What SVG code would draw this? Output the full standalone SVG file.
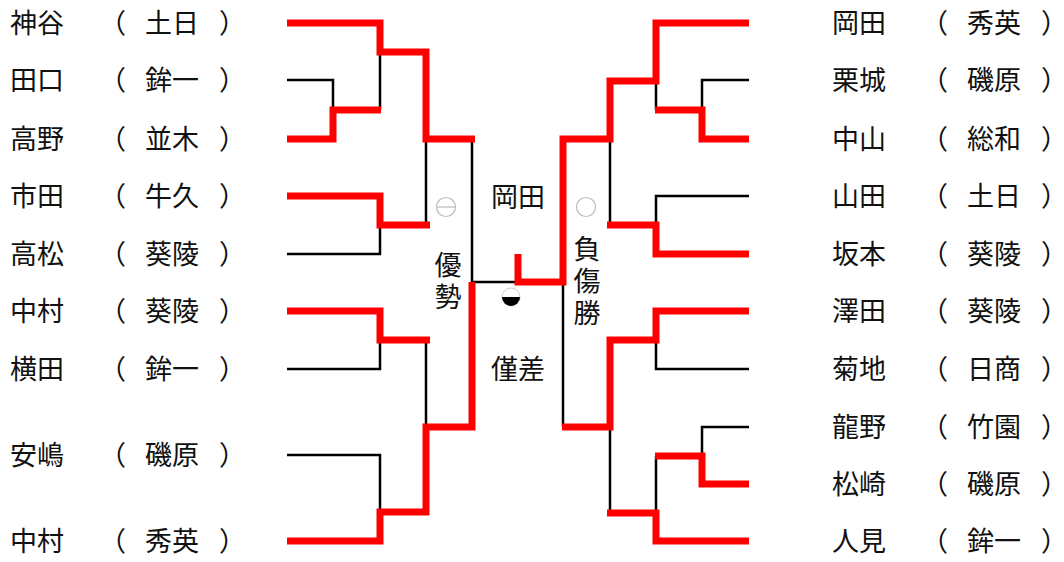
<svg xmlns="http://www.w3.org/2000/svg" width="1064" height="562" viewBox="0 0 1064 562">
<style>
text{font-family:"Noto Sans CJK JP","Noto Sans",sans-serif;font-size:27px;fill:#111}
.c{text-anchor:middle}
.p{font-feature-settings:"halt"}
.v{writing-mode:vertical-rl;text-anchor:middle;letter-spacing:5px}
.b{fill:none;stroke:#000;stroke-width:2.5}
.r{fill:none;stroke:#ff0000;stroke-width:7;stroke-linejoin:miter;stroke-linecap:butt}
.g{fill:#fff;stroke:#bbb;stroke-width:1.2}
</style>
<rect width="1064" height="562" fill="#fff"/>
<g id="connectors">
<g id="black-lines">
<path class="b" d="M287,80H333V110"/>
<path class="b" d="M380,52V110"/>
<path class="b" d="M287,254H380V225"/>
<path class="b" d="M426,139V225"/>
<path class="b" d="M287,369H380V340"/>
<path class="b" d="M426,340V427"/>
<path class="b" d="M287,455H380V512"/>
<path class="b" d="M472,139V282H518"/>
<path class="b" d="M749,80H702V110"/>
<path class="b" d="M656,81V110"/>
<path class="b" d="M749,196H656V225"/>
<path class="b" d="M610,139V225"/>
<path class="b" d="M749,369H656V340"/>
<path class="b" d="M749,427H702V456"/>
<path class="b" d="M656,456V513"/>
<path class="b" d="M610,427V513"/>
<path class="b" d="M563,282V427"/>
</g>
<g id="red-lines">
<path class="r" d="M287,23H380V52H426V139H475"/>
<path class="r" d="M287,139H333V110H381"/>
<path class="r" d="M287,196H380V225H430"/>
<path class="r" d="M287,311H380V340H430"/>
<path class="r" d="M287,541H380V512H426V427H472V282"/>
<path class="r" d="M749,23H656V81H610V139H563V282H518V254"/>
<path class="r" d="M749,139H702V110H655"/>
<path class="r" d="M749,254H656V225H607"/>
<path class="r" d="M749,311H656V340H610V427H562"/>
<path class="r" d="M749,484H702V456H655"/>
<path class="r" d="M749,541H656V513H607"/>
</g>
</g>
<g id="L1"><text x="10" y="33">神谷</text><text x="99" y="33">（</text><text class="c" x="172" y="33">土日</text><text class="p" x="219" y="33">）</text></g>
<g id="L2"><text x="10" y="90">田口</text><text x="99" y="90">（</text><text class="c" x="172" y="90">鉾一</text><text class="p" x="219" y="90">）</text></g>
<g id="L3"><text x="10" y="149">高野</text><text x="99" y="149">（</text><text class="c" x="172" y="149">並木</text><text class="p" x="219" y="149">）</text></g>
<g id="L4"><text x="10" y="206">市田</text><text x="99" y="206">（</text><text class="c" x="172" y="206">牛久</text><text class="p" x="219" y="206">）</text></g>
<g id="L5"><text x="10" y="264">高松</text><text x="99" y="264">（</text><text class="c" x="172" y="264">葵陵</text><text class="p" x="219" y="264">）</text></g>
<g id="L6"><text x="10" y="321">中村</text><text x="99" y="321">（</text><text class="c" x="172" y="321">葵陵</text><text class="p" x="219" y="321">）</text></g>
<g id="L7"><text x="10" y="379">横田</text><text x="99" y="379">（</text><text class="c" x="172" y="379">鉾一</text><text class="p" x="219" y="379">）</text></g>
<g id="L8"><text x="10" y="465">安嶋</text><text x="99" y="465">（</text><text class="c" x="172" y="465">磯原</text><text class="p" x="219" y="465">）</text></g>
<g id="L9"><text x="10" y="551">中村</text><text x="99" y="551">（</text><text class="c" x="172" y="551">秀英</text><text class="p" x="219" y="551">）</text></g>
<g id="R1"><text x="832" y="33">岡田</text><text x="921" y="33">（</text><text class="c" x="994" y="33">秀英</text><text class="p" x="1041" y="33">）</text></g>
<g id="R2"><text x="832" y="90">栗城</text><text x="921" y="90">（</text><text class="c" x="994" y="90">磯原</text><text class="p" x="1041" y="90">）</text></g>
<g id="R3"><text x="832" y="149">中山</text><text x="921" y="149">（</text><text class="c" x="994" y="149">総和</text><text class="p" x="1041" y="149">）</text></g>
<g id="R4"><text x="832" y="206">山田</text><text x="921" y="206">（</text><text class="c" x="994" y="206">土日</text><text class="p" x="1041" y="206">）</text></g>
<g id="R5"><text x="832" y="264">坂本</text><text x="921" y="264">（</text><text class="c" x="994" y="264">葵陵</text><text class="p" x="1041" y="264">）</text></g>
<g id="R6"><text x="832" y="321">澤田</text><text x="921" y="321">（</text><text class="c" x="994" y="321">葵陵</text><text class="p" x="1041" y="321">）</text></g>
<g id="R7"><text x="832" y="379">菊地</text><text x="921" y="379">（</text><text class="c" x="994" y="379">日商</text><text class="p" x="1041" y="379">）</text></g>
<g id="R8"><text x="832" y="437">龍野</text><text x="921" y="437">（</text><text class="c" x="994" y="437">竹園</text><text class="p" x="1041" y="437">）</text></g>
<g id="R9"><text x="832" y="494">松崎</text><text x="921" y="494">（</text><text class="c" x="994" y="494">磯原</text><text class="p" x="1041" y="494">）</text></g>
<g id="R10"><text x="832" y="551">人見</text><text x="921" y="551">（</text><text class="c" x="994" y="551">鉾一</text><text class="p" x="1041" y="551">）</text></g>
<g id="center">
<text class="c" x="518" y="207">岡田</text>
<text class="c" x="518" y="379">僅差</text>
<text class="v" x="448" y="283">優勢</text>
<text class="v" x="587" y="283">負傷勝</text>
</g>
<g id="marks">
<circle class="g" cx="446" cy="207" r="9.5"/>
<line x1="436.5" y1="207" x2="455.5" y2="207" stroke="#bbb" stroke-width="1.2"/>
<circle class="g" cx="586" cy="207" r="9.5"/>
<circle cx="511" cy="297" r="9" fill="#fff" stroke="#ccc" stroke-width="1"/>
<path d="M502,297A9,9 0 0 0 520,297Z" fill="#000"/>
</g>
</svg>
